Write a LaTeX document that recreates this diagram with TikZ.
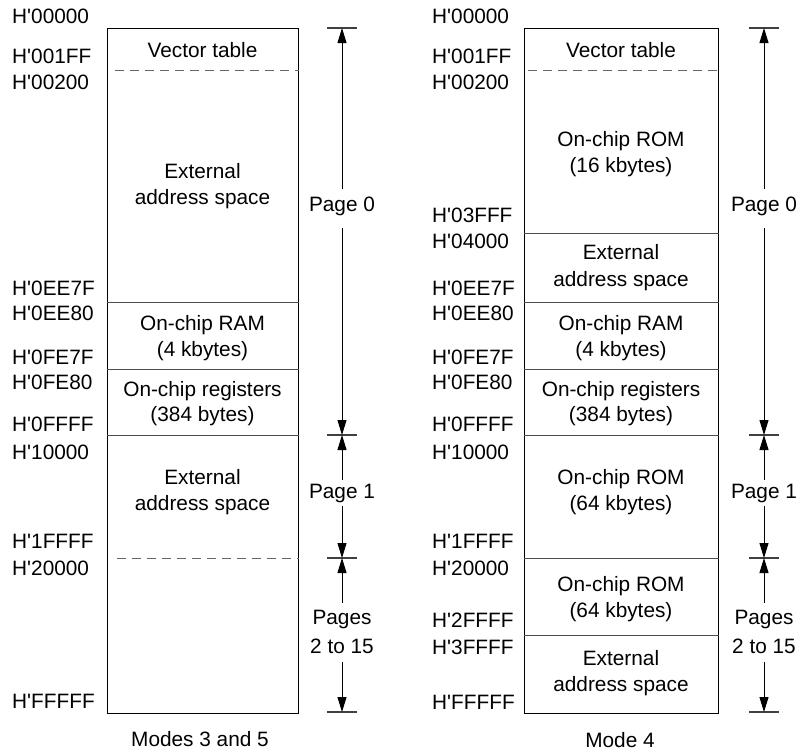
\documentclass[tikz,border=0pt]{standalone}
\usepackage{fontspec}
\newfontfamily\arialfont{Liberation Sans}
\usetikzlibrary{arrows.meta}
\begin{document}
\begin{tikzpicture}[x=1pt,y=-1pt,
  every node/.style={font=\arialfont\fontsize{20.8}{26.5}\selectfont, inner sep=0pt},
  addr/.style={anchor=base west},
  txt/.style={anchor=base},
  membox/.style={draw=black, line width=1.4pt, anchor=north west, minimum height=685pt},
  div/.style={draw=black!70, line width=1pt},
  dashdiv/.style={draw=black!60, line width=1pt, dash pattern=on 9pt off 6pt},
  tickln/.style={draw=black!75, line width=1.2pt},
  dimarrow/.style={draw=black, line width=1pt, -{Triangle[length=15pt,width=9pt]}},
  pagelbl/.style={align=center}
]
\useasboundingbox (0,0) rectangle (808,750);

% ---------- Left map: Modes 3 and 5 ----------
\node[membox, minimum width=191pt] (bL) at (107,28) {};
\draw[dashdiv] (115,70) -- (bL.east |- 0,70);
\draw[div] (bL.west |- 0,302) -- (bL.east |- 0,302);
\draw[div] (bL.west |- 0,369) -- (bL.east |- 0,369);
\draw[div] (bL.west |- 0,435) -- (bL.east |- 0,435);
\draw[dashdiv] (117,558) -- (bL.east |- 0,558);

\node[txt] (vtL) at (202.5,57) {Vector table};
\node[txt] (e1aL) at (202.5,178) {External};
\node[txt] (e1bL) at (202.5,204.5) {address space};
\node[txt] (ramaL) at (202.5,330) {On-chip RAM};
\node[txt] (rambL) at (202.5,356) {(4 kbytes)};
\node[txt] (regaL) at (202.5,396) {On-chip registers};
\node[txt] (regbL) at (202.5,421) {(384 bytes)};
\node[txt] (e2aL) at (202.5,484) {External};
\node[txt] (e2bL) at (202.5,510.5) {address space};

\node[addr] (aL1) at (12,23) {H'00000};
\node[addr] (aL2) at (12,63) {H'001FF};
\node[addr] (aL3) at (12,89) {H'00200};
\node[addr] (aL4) at (12,295) {H'0EE7F};
\node[addr] (aL5) at (12,320) {H'0EE80};
\node[addr] (aL6) at (12,364) {H'0FE7F};
\node[addr] (aL7) at (12,389) {H'0FE80};
\node[addr] (aL8) at (12,431) {H'0FFFF};
\node[addr] (aL9) at (12,459) {H'10000};
\node[addr] (aL10) at (12,548) {H'1FFFF};
\node[addr] (aL11) at (12,575) {H'20000};
\node[addr] (aL12) at (12,708) {H'FFFFF};

\node[txt] (capL) at (200,746) {Modes 3 and 5};

\coordinate (t0L) at (342,28);
\coordinate (t1L) at (342,435);
\coordinate (t2L) at (342,558);
\coordinate (t3L) at (342,712);
\foreach \t in {t0L,t1L,t2L,t3L}
  \draw[tickln] ([xshift=-15pt]\t) -- ([xshift=15pt]\t);

\node[pagelbl, inner ysep=7pt] (p0L) at (342,206) {Page 0};
\node[pagelbl, inner ysep=3.5pt] (p1L) at (342,493) {Page 1};
\node[pagelbl, inner ysep=7.7pt] (p2L) at (342,632.4) {Pages\\[2.5pt]2 to 15};
\draw[dimarrow] (p0L.north) -- (t0L);
\draw[dimarrow, shorten <=5pt] (p0L.south) -- (t1L);
\draw[dimarrow] (p1L.north) -- (t1L);
\draw[dimarrow] (p1L.south) -- (t2L);
\draw[dimarrow] (p2L.north) -- (t2L);
\draw[dimarrow] (p2L.south) -- (t3L);

% ---------- Right map: Mode 4 ----------
\node[membox, minimum width=194pt] (bR) at (524,28) {};
\draw[dashdiv] (528,70) -- (bR.east |- 0,70);
\draw[div] (bR.west |- 0,233) -- (bR.east |- 0,233);
\draw[div] (bR.west |- 0,302) -- (bR.east |- 0,302);
\draw[div] (bR.west |- 0,369) -- (bR.east |- 0,369);
\draw[div] (bR.west |- 0,435) -- (bR.east |- 0,435);
\draw[div] (bR.west |- 0,558) -- (bR.east |- 0,558);
\draw[div] (bR.west |- 0,635) -- (bR.east |- 0,635);

\node[txt] (vtR) at (621,57) {Vector table};
\node[txt] (r1aR) at (621,146) {On-chip ROM};
\node[txt] (r1bR) at (621,172.5) {(16 kbytes)};
\node[txt] (e1aR) at (621,259) {External};
\node[txt] (e1bR) at (621,286) {address space};
\node[txt] (ramaR) at (621,330) {On-chip RAM};
\node[txt] (rambR) at (621,356) {(4 kbytes)};
\node[txt] (regaR) at (621,396) {On-chip registers};
\node[txt] (regbR) at (621,421) {(384 bytes)};
\node[txt] (r2aR) at (621,484) {On-chip ROM};
\node[txt] (r2bR) at (621,510.5) {(64 kbytes)};
\node[txt] (r3aR) at (621,591) {On-chip ROM};
\node[txt] (r3bR) at (621,617.5) {(64 kbytes)};
\node[txt] (e2aR) at (621,665) {External};
\node[txt] (e2bR) at (621,691.5) {address space};

\node[addr] (aR1) at (432,23) {H'00000};
\node[addr] (aR2) at (432,63) {H'001FF};
\node[addr] (aR3) at (432,89) {H'00200};
\node[addr] (aR4) at (432,222) {H'03FFF};
\node[addr] (aR5) at (432,248) {H'04000};
\node[addr] (aR6) at (432,295) {H'0EE7F};
\node[addr] (aR7) at (432,320) {H'0EE80};
\node[addr] (aR8) at (432,364) {H'0FE7F};
\node[addr] (aR9) at (432,389) {H'0FE80};
\node[addr] (aR10) at (432,431) {H'0FFFF};
\node[addr] (aR11) at (432,459) {H'10000};
\node[addr] (aR12) at (432,548) {H'1FFFF};
\node[addr] (aR13) at (432,575) {H'20000};
\node[addr] (aR14) at (432,627) {H'2FFFF};
\node[addr] (aR15) at (432,654) {H'3FFFF};
\node[addr] (aR16) at (432,709) {H'FFFFF};

\node[txt] (capR) at (620,747) {Mode 4};

\coordinate (t0R) at (764,28);
\coordinate (t1R) at (764,435);
\coordinate (t2R) at (764,558);
\coordinate (t3R) at (764,712);
\foreach \t in {t0R,t1R,t2R,t3R}
  \draw[tickln] ([xshift=-15pt]\t) -- ([xshift=15pt]\t);

\node[pagelbl, inner ysep=7pt] (p0R) at (764,206) {Page 0};
\node[pagelbl, inner ysep=3.5pt] (p1R) at (764,493) {Page 1};
\node[pagelbl, inner ysep=7.7pt] (p2R) at (764,632.4) {Pages\\[2.5pt]2 to 15};
\draw[dimarrow] (p0R.north) -- (t0R);
\draw[dimarrow, shorten <=5pt] (p0R.south) -- (t1R);
\draw[dimarrow] (p1R.north) -- (t1R);
\draw[dimarrow] (p1R.south) -- (t2R);
\draw[dimarrow] (p2R.north) -- (t2R);
\draw[dimarrow] (p2R.south) -- (t3R);
\end{tikzpicture}
\end{document}
